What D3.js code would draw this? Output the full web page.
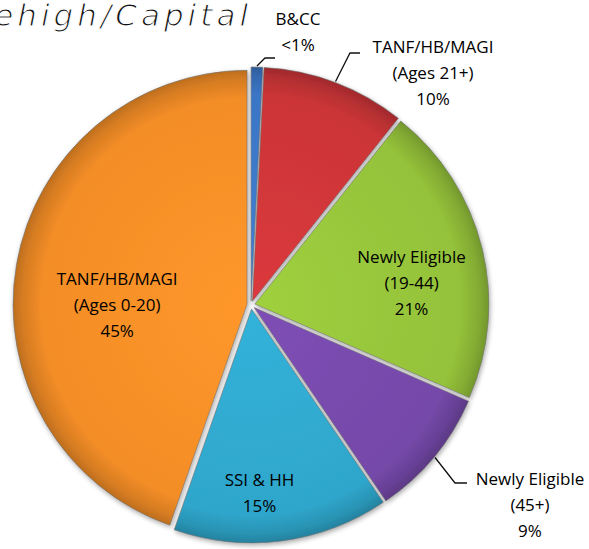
<!DOCTYPE html>
<html>
<head>
<meta charset="utf-8">
<script src="https://cdn.jsdelivr.net/npm/d3@7"></script>
<style>
  html, body { margin: 0; padding: 0; background: #fff; }
  svg { display: block; }
  text { font-family: "Open Sans", "Noto Sans", sans-serif; fill: #000; }
</style>
</head>
<body>
<svg id="chart" width="589" height="549"></svg>
<script>
// ---- data ----
const categories = ["B&CC", "TANF/HB/MAGI (Ages 21+)", "Newly Eligible (19-44)", "Newly Eligible (45+)", "SSI & HH", "TANF/HB/MAGI (Ages 0-20)"];
const values = [0.8, 10, 21, 9, 15, 45];
const labelLines = [
  ["B&CC", "<1%"],
  ["TANF/HB/MAGI", "(Ages 21+)", "10%"],
  ["Newly Eligible", "(19-44)", "21%"],
  ["Newly Eligible", "(45+)", "9%"],
  ["SSI & HH", "15%"],
  ["TANF/HB/MAGI", "(Ages 0-20)", "45%"]
];
const colors = ["#3b76c6", "#cc3538", "#94c23a", "#7549a9", "#2fa6cb", "#f38d27"];
const title = "Lehigh/Capital";

// ---- layout ----
const W = 589, H = 549;
const cx = 251, cy = 305, R = 234, explode = 4;
const lineH = 26;
const fontSize = 17;
const labelLayout = [
  { outside: true, elbow: [265, 58], end: [275, 58], tx: 298, ty: 25, anchor: "middle" },
  { outside: true, elbow: [350, 53], end: [360, 53], tx: 433, ty: 53, anchor: "middle" },
  { f: 0.69, dx: 0, dy: 18 },
  { outside: true, elbow: [455, 483], end: [467, 483], tx: 530, ty: 485, anchor: "middle" },
  { f: 0.785, dx: -16, dy: 2 },
  { f: 0.55, dx: -3, dy: 22 }
];

const svg = d3.select("#chart");
const defs = svg.append("defs");

const shadow = defs.append("filter").attr("id", "shadow")
  .attr("x", "-20%").attr("y", "-20%").attr("width", "140%").attr("height", "140%");
shadow.append("feGaussianBlur").attr("in", "SourceAlpha").attr("stdDeviation", 2.5).attr("result", "blur");
shadow.append("feOffset").attr("in", "blur").attr("dx", 1).attr("dy", 2).attr("result", "off");
shadow.append("feComponentTransfer").attr("in", "off").attr("result", "offA")
  .append("feFuncA").attr("type", "linear").attr("slope", 0.35);
const merge = shadow.append("feMerge");
merge.append("feMergeNode").attr("in", "offA");
merge.append("feMergeNode").attr("in", "SourceGraphic");

colors.forEach((c, i) => {
  const g = defs.append("radialGradient").attr("id", "grad" + i)
    .attr("gradientUnits", "userSpaceOnUse")
    .attr("cx", 0).attr("cy", 0).attr("r", R);
  g.append("stop").attr("offset", "0%").attr("stop-color", d3.color(c).brighter(0.2));
  g.append("stop").attr("offset", "88%").attr("stop-color", d3.color(c));
  g.append("stop").attr("offset", "96%").attr("stop-color", d3.color(c).darker(0.35));
  g.append("stop").attr("offset", "100%").attr("stop-color", d3.color(c).darker(0.7));
});

const pie = d3.pie().sort(null).value(d => d);
const arcs = pie(values);
const arc = d3.arc().innerRadius(0).outerRadius(R);

const root = svg.append("g").attr("transform", `translate(${cx},${cy})`);

function offsetOf(a, dist) {
  const m = (a.startAngle + a.endAngle) / 2;
  return [Math.sin(m) * dist, -Math.cos(m) * dist];
}

const slices = root.append("g").attr("filter", "url(#shadow)");
slices.selectAll("path").data(arcs).join("path")
  .attr("transform", d => { const o = offsetOf(d, explode); return `translate(${o[0]},${o[1]})`; })
  .attr("d", arc)
  .attr("fill", (d, i) => `url(#grad${i})`)
  .attr("stroke", "#6f6f6f")
  .attr("stroke-opacity", 0.6)
  .attr("stroke-width", 1)
  .attr("stroke-linejoin", "round");

const labels = svg.append("g");
arcs.forEach((a, i) => {
  const L = labelLayout[i];
  const lines = labelLines[i];
  if (L.outside) {
    const s = offsetOf(a, R + explode + 1);
    labels.append("path")
      .attr("d", d3.line()([[cx + s[0], cy + s[1]], L.elbow, L.end]))
      .attr("fill", "none").attr("stroke", "#111").attr("stroke-width", 1.3);
    const t = labels.append("text").attr("text-anchor", L.anchor).attr("font-size", fontSize);
    lines.forEach((ln, k) => {
      t.append("tspan").attr("x", L.tx).attr("y", L.ty + k * lineH).text(ln);
    });
  } else {
    const p = offsetOf(a, R * L.f);
    const o = offsetOf(a, explode);
    const x = cx + p[0] + o[0] + L.dx;
    const yMid = cy + p[1] + o[1] + L.dy;
    const n = lines.length;
    const t = labels.append("text").attr("text-anchor", "middle").attr("font-size", fontSize);
    lines.forEach((ln, k) => {
      t.append("tspan").attr("x", x).attr("y", yMid + 6 + (k - (n - 1) / 2) * lineH).text(ln);
    });
  }
});

// title (partly cut off at left, as in reference); thin look via white edge stroke
svg.append("text")
  .attr("x", 252).attr("y", 26)
  .attr("text-anchor", "end")
  .attr("font-size", 31)
  .attr("font-style", "italic")
  .style("font-family", "'DejaVu Sans', sans-serif")
  .style("letter-spacing", "4px")
  .style("fill", "#111")
  .style("stroke", "#fff")
  .style("stroke-width", "1.1px")
  .style("paint-order", "fill")
  .text(title);
</script>
</body>
</html>
